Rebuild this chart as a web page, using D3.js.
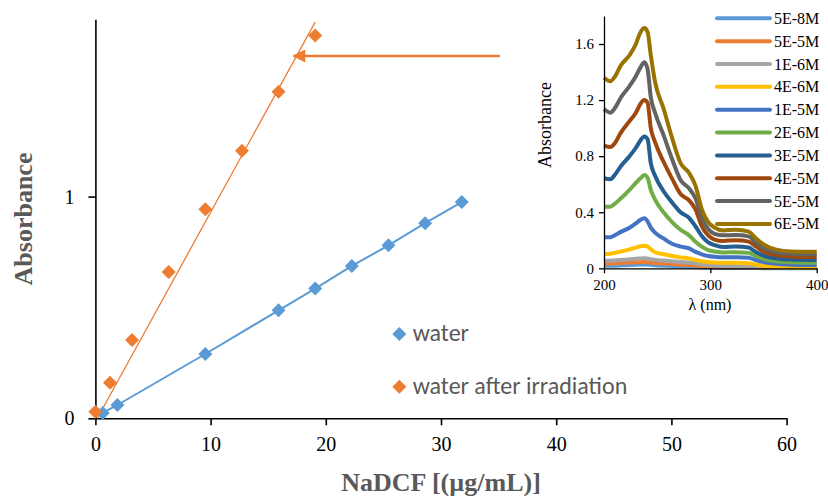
<!DOCTYPE html>
<html>
<head>
<meta charset="utf-8">
<script src="https://cdn.jsdelivr.net/npm/d3@7"></script>
<style>
  body { margin: 0; background: #fff; }
  svg { display: block; }
</style>
</head>
<body>
<svg id="chart" width="828" height="498"></svg>
<script>
// main chart: calibration points
const waterX = [0.64, 1.91, 9.54, 15.9, 19.08, 22.26, 25.44, 28.62, 31.8];
const waterY = [0.024, 0.06, 0.29, 0.487, 0.585, 0.687, 0.78, 0.88, 0.975];
const irrX = [0, 1.27, 3.18, 6.36, 9.54, 12.72, 15.9, 19.08];
const irrY = [0.03, 0.16, 0.353, 0.66, 0.943, 1.207, 1.473, 1.726];
// linear trendline drawn on the irradiated series
const trendX = [0.17, 19.08];
const trendY = [0, 1.787];
// arrow pointing at the trendline
const arrowX = [35.1, 17.2];
const arrowY = [1.634, 1.634];
const mainXTicks = [0, 10, 20, 30, 40, 50, 60];
const mainYTicks = [0, 1];
const legendNames = ["water", "water after irradiation"];

// inset: UV spectra
const lambda = [200, 206, 210, 216, 224, 230, 234, 238, 241, 244, 248, 256, 264, 272, 280, 286, 292, 298, 304, 312, 324, 336, 342, 350, 362, 376, 390, 400];
const spectraNames = ["5E-8M", "5E-5M", "1E-6M", "4E-6M", "1E-5M", "2E-6M", "3E-5M", "4E-5M", "5E-5M", "6E-5M"];
const spectraColors = ["#5B9BD5", "#ED7D31", "#A5A5A5", "#FFC000", "#4472C4", "#70AD47", "#255E91", "#9E480E", "#636363", "#997300"];
const s5E8 = [0.018, 0.018, 0.019, 0.021, 0.024, 0.026, 0.027, 0.028, 0.027, 0.025, 0.022, 0.019, 0.016, 0.013, 0.011, 0.009, 0.007, 0.005, 0.004, 0.003, 0.003, 0.003, 0.002, 0.001, 0.001, 0.001, 0.001, 0.001];
const s5E5a = [0.035, 0.035, 0.036, 0.038, 0.041, 0.043, 0.044, 0.045, 0.044, 0.041, 0.038, 0.034, 0.03, 0.026, 0.023, 0.02, 0.016, 0.012, 0.01, 0.008, 0.008, 0.007, 0.006, 0.004, 0.003, 0.003, 0.003, 0.003];
const s1E6 = [0.054, 0.054, 0.056, 0.059, 0.064, 0.068, 0.07, 0.072, 0.07, 0.065, 0.06, 0.055, 0.05, 0.045, 0.041, 0.035, 0.028, 0.022, 0.018, 0.015, 0.014, 0.012, 0.009, 0.005, 0.003, 0.002, 0.002, 0.002];
const s4E6 = [0.102, 0.104, 0.11, 0.12, 0.135, 0.148, 0.157, 0.16, 0.155, 0.135, 0.115, 0.1, 0.088, 0.078, 0.07, 0.06, 0.05, 0.045, 0.042, 0.04, 0.04, 0.036, 0.028, 0.018, 0.01, 0.007, 0.006, 0.006];
const s1E5 = [0.221, 0.222, 0.235, 0.26, 0.29, 0.32, 0.345, 0.357, 0.335, 0.29, 0.255, 0.213, 0.175, 0.155, 0.142, 0.117, 0.1, 0.088, 0.082, 0.078, 0.078, 0.075, 0.06, 0.045, 0.032, 0.026, 0.024, 0.024];
const s2E6 = [0.44, 0.44, 0.46, 0.5, 0.56, 0.61, 0.64, 0.665, 0.645, 0.56, 0.49, 0.4, 0.33, 0.275, 0.235, 0.19, 0.155, 0.13, 0.12, 0.113, 0.115, 0.11, 0.09, 0.065, 0.05, 0.043, 0.04, 0.04];
const s3E5 = [0.642, 0.635, 0.665, 0.73, 0.8, 0.86, 0.91, 0.94, 0.92, 0.75, 0.66, 0.55, 0.47, 0.4, 0.36, 0.3, 0.23, 0.185, 0.165, 0.152, 0.155, 0.148, 0.12, 0.09, 0.07, 0.062, 0.06, 0.06];
const s4E5 = [0.875, 0.865, 0.89, 0.97, 1.05, 1.11, 1.17, 1.2, 1.18, 1.0, 0.9, 0.76, 0.64, 0.53, 0.485, 0.42, 0.3, 0.235, 0.205, 0.195, 0.2, 0.19, 0.16, 0.12, 0.095, 0.085, 0.08, 0.08];
const s5E5b = [1.136, 1.11, 1.14, 1.22, 1.3, 1.37, 1.43, 1.47, 1.42, 1.22, 1.11, 0.95, 0.78, 0.63, 0.57, 0.5, 0.36, 0.28, 0.245, 0.235, 0.237, 0.228, 0.19, 0.145, 0.115, 0.104, 0.1, 0.1];
const s6E5 = [1.36, 1.335, 1.365, 1.45, 1.52, 1.6, 1.68, 1.715, 1.685, 1.52, 1.33, 1.14, 0.93, 0.75, 0.68, 0.59, 0.42, 0.33, 0.29, 0.27, 0.275, 0.262, 0.22, 0.17, 0.133, 0.12, 0.118, 0.118];
const spectraValues = [s5E8, s5E5a, s1E6, s4E6, s1E5, s2E6, s3E5, s4E5, s5E5b, s6E5];
const insetXTicks = [200, 300, 400];
const insetYTicks = [0, 0.4, 0.8, 1.2, 1.6];

const blue = "#5B9BD5", orange = "#ED7D31", grey = "#595959";
const serif = "'Liberation Serif', 'Times New Roman', serif";
const sans = "Carlito, Calibri, 'Open Sans', sans-serif";

var svg = d3.select("#chart");

var x = d3.scaleLinear().domain([0, 60]).range([95.4, 786.6]);
var y = d3.scaleLinear().domain([0, 1.8]).range([418.3, 19.2]);

var diamond = d3.symbol().type(d3.symbolSquare).size(98);

// axes
var xAxis = svg.append("g")
    .attr("transform", "translate(0," + y(0) + ")")
    .call(d3.axisBottom(x).tickValues(mainXTicks).tickSize(7).tickPadding(12).tickSizeOuter(0));
var yAxis = svg.append("g")
    .attr("transform", "translate(" + x(0) + ",0)")
    .call(d3.axisLeft(y).tickValues(mainYTicks).tickFormat(d3.format("d")).tickSize(7).tickPadding(14).tickSizeOuter(0));
[xAxis, yAxis].forEach(g => {
    g.attr("font-family", null).attr("font-size", null);
    g.select(".domain").attr("stroke", "#000").attr("stroke-width", 1.6);
    g.selectAll(".tick line").attr("stroke", "#000").attr("stroke-width", 1.6);
    g.selectAll(".tick text").style("font-family", serif).style("font-size", "20px").attr("fill", "#000");
});
yAxis.selectAll(".tick text").attr("dy", "0.33em");

svg.append("text")
    .attr("transform", "translate(32,219) rotate(-90)")
    .attr("text-anchor", "middle")
    .style("font-family", serif).attr("font-weight", "bold").attr("font-size", 26)
    .attr("fill", grey)
    .text("Absorbance");
svg.append("text")
    .attr("x", 441).attr("y", 491)
    .attr("text-anchor", "middle")
    .style("font-family", serif).attr("font-weight", "bold").attr("font-size", 26)
    .attr("fill", grey)
    .text("NaDCF [(µg/mL)]");

// trendline and connecting line
svg.append("path")
    .datum(trendX.map((d, i) => [d, trendY[i]]))
    .attr("fill", "none").attr("stroke", orange).attr("stroke-width", 1.3)
    .attr("d", d3.line().x(d => x(d[0])).y(d => y(d[1])));
svg.append("path")
    .datum(waterX.map((d, i) => [d, waterY[i]]))
    .attr("fill", "none").attr("stroke", blue).attr("stroke-width", 2)
    .attr("d", d3.line().x(d => x(d[0])).y(d => y(d[1])));

svg.selectAll("path.water")
    .data(waterX)
    .enter().append("path")
    .attr("class", "water")
    .attr("d", diamond)
    .attr("transform", (d, i) => "translate(" + x(d) + "," + y(waterY[i]) + ") rotate(45)")
    .attr("fill", blue);
svg.selectAll("path.irr")
    .data(irrX)
    .enter().append("path")
    .attr("class", "irr")
    .attr("d", diamond)
    .attr("transform", (d, i) => "translate(" + x(d) + "," + y(irrY[i]) + ") rotate(45)")
    .attr("fill", orange);

// arrow
svg.append("defs").append("marker")
    .attr("id", "head")
    .attr("viewBox", "0 0 10 10").attr("refX", 9).attr("refY", 5)
    .attr("markerUnits", "userSpaceOnUse")
    .attr("markerWidth", 16).attr("markerHeight", 13)
    .attr("orient", "auto")
    .append("path").attr("d", "M0,0L10,5L0,10Z").attr("fill", orange);
svg.append("line")
    .attr("x1", x(arrowX[0])).attr("y1", y(arrowY[0]))
    .attr("x2", x(arrowX[1])).attr("y2", y(arrowY[1]))
    .attr("stroke", orange).attr("stroke-width", 2.5)
    .attr("marker-end", "url(#head)");

// legend
var leg = svg.append("g");
legendNames.forEach((name, i) => {
    leg.append("path")
        .attr("d", diamond)
        .attr("transform", "translate(399.3," + (334 + i * 52.7) + ") rotate(45)")
        .attr("fill", i == 0 ? blue : orange);
    leg.append("text")
        .attr("x", 412.7).attr("y", 341 + i * 52.7)
        .style("font-family", sans).attr("font-size", 24)
        .attr("fill", grey)
        .text(name);
});

// inset
var xi = d3.scaleLinear().domain([200, 400]).range([604, 816.7]);
var yi = d3.scaleLinear().domain([0, 1.8]).range([268.3, 16]);

var inset = svg.append("g");

var lineI = d3.line()
    .curve(d3.curveMonotoneX)
    .x((d, i) => xi(lambda[i]))
    .y(d => yi(d));
spectraValues.forEach((vals, k) => {
    inset.append("path")
        .datum(vals)
        .attr("fill", "none")
        .attr("stroke", spectraColors[k])
        .attr("stroke-width", 4)
        .attr("stroke-linejoin", "round")
        .attr("d", lineI);
});

var xiAxis = inset.append("g")
    .attr("transform", "translate(0," + yi(0) + ")")
    .call(d3.axisBottom(xi).tickValues(insetXTicks).tickSize(5).tickPadding(6).tickSizeOuter(0));
var yiAxis = inset.append("g")
    .attr("transform", "translate(" + xi(200) + ",0)")
    .call(d3.axisLeft(yi).tickValues(insetYTicks).tickFormat(d => d == 0 ? "0" : d3.format(".1f")(d)).tickSize(5).tickPadding(5).tickSizeOuter(0));
[xiAxis, yiAxis].forEach(g => {
    g.attr("font-family", null).attr("font-size", null);
    g.select(".domain").attr("stroke", "#000").attr("stroke-width", 1.3);
    g.selectAll(".tick line").attr("stroke", "#000").attr("stroke-width", 1.3);
    g.selectAll(".tick text").style("font-family", serif).style("font-size", "15px").attr("fill", "#000");
});

inset.append("text")
    .attr("transform", "translate(551,125) rotate(-90)")
    .attr("text-anchor", "middle")
    .style("font-family", serif).attr("font-size", 18)
    .attr("fill", "#000")
    .text("Absorbance");
inset.append("text")
    .attr("x", 710).attr("y", 310)
    .attr("text-anchor", "middle")
    .style("font-family", serif).attr("font-size", 16)
    .attr("fill", "#000")
    .text("λ (nm)");

// inset legend
spectraNames.forEach((name, k) => {
    var ly = 18.3 + k * 22.85;
    inset.append("line")
        .attr("x1", 717).attr("x2", 770)
        .attr("y1", ly).attr("y2", ly)
        .attr("stroke", spectraColors[k]).attr("stroke-width", 4)
        .attr("stroke-linecap", "round");
    inset.append("text")
        .attr("x", 774).attr("y", ly + 5.5)
        .style("font-family", serif).attr("font-size", 16)
        .attr("fill", "#000")
        .text(name);
});
</script>
</body>
</html>
